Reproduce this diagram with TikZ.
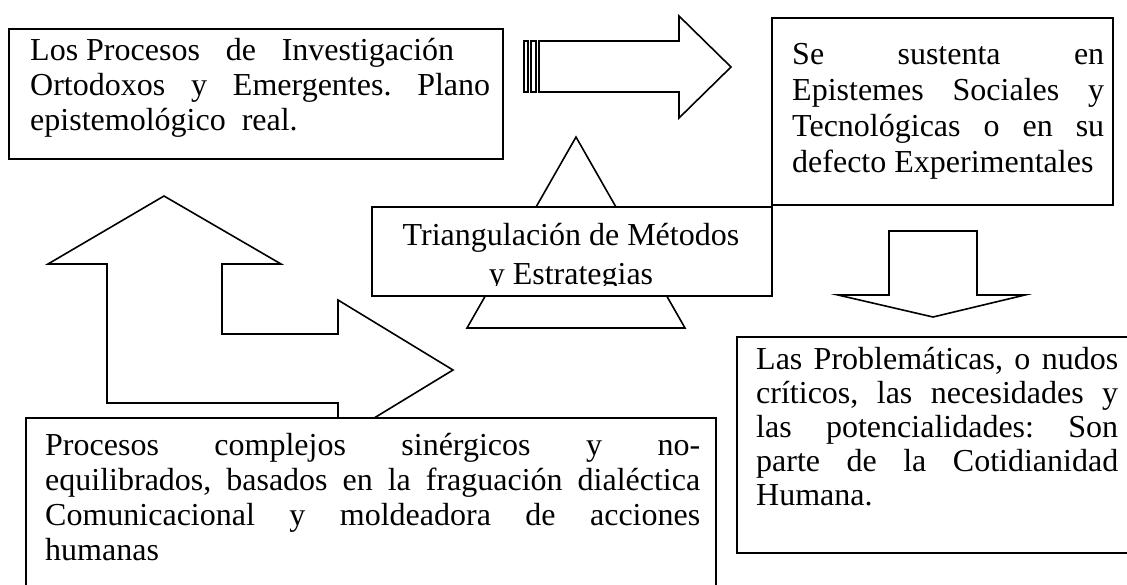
\documentclass[tikz,border=0pt]{standalone}
\usepackage{fontspec}
\setmainfont{Liberation Serif}
\frenchspacing
\newcommand\jline[1]{\hbox to\hsize{#1}}
\newcommand\nline[1]{\hbox{#1}}
\newcommand\clines[1]{\hbox to\hsize{\hfil #1\hfil}}
\newcommand\lines[3]{\vtop{\hsize=#1\baselineskip=#2\lineskiplimit=-\maxdimen #3}}
\tikzset{
  shp/.style={draw=black, line width=1.6pt, fill=white, line join=miter},
  stripe/.style={draw=black, line width=1.1pt, fill=white},
  box/.style={draw=black, line width=1.6pt, fill=white, inner sep=0pt, anchor=north west},
  txt/.style={inner sep=0pt, anchor=base west, font=\fontsize{32}{37}\selectfont},
}
\begin{document}
\begin{tikzpicture}[x=1pt,y=-1pt]
\useasboundingbox (0,0) rectangle (1127,584);
\clip (0,0) rectangle (1127,584);

% striped right arrow
\draw[stripe] (524,41) rectangle (528,92);
\draw[stripe] (531,41) rectangle (536,92);
\draw[shp] (539,41) -- (679,41) -- (679,16) -- (731,67) -- (679,118) -- (679,92) -- (539,92) -- cycle;

% top-left box
\node[box, minimum width=494pt, minimum height=130pt] (tlbox) at (8,28) {};
\node[txt] (tltext) at (30,60) {\lines{460pt}{35pt}{%
  \hbox to 424pt{Los Procesos\hfil\ de\hfil\ Investigación}%
  \jline{Ortodoxos y Emergentes. Plano}%
  \nline{epistemológico\ \ real.}}};

% top-right box
\node[box, minimum width=341pt, minimum height=187pt] (trbox) at (771,17) {};
\node[txt] (trtext) at (792,64) {\lines{312pt}{36pt}{%
  \jline{Se sustenta en}%
  \jline{Epistemes Sociales y}%
  \jline{Tecnológicas o en su}%
  \nline{defecto Experimentales}}};

% triangle behind the central box
\draw[shp] (576,137) -- (685,328) -- (467,328) -- cycle;

% central box
\node[box, minimum width=400pt, minimum height=89pt] (tgbox) at (371,206) {};
\begin{scope}
\clip (371,206) rectangle (771,285);
\node[txt, anchor=base] (tgtext) at (571,245) {\lines{400pt}{39pt}{%
  \clines{Triangulación de Métodos}%
  \clines{y Estrategias}}};
\end{scope}

% bent arrow (up and right)
\draw[shp] (164,196) -- (281,264) -- (222,264) -- (222,334) -- (338,334) -- (338,300)
  -- (453,370) -- (338,440) -- (338,403) -- (107,403) -- (107,264) -- (48,264) -- cycle;

% bottom box
\node[box, minimum width=690pt, minimum height=200pt] (bbox) at (25,417) {};
\node[txt] (btext) at (45,455) {\lines{655pt}{35pt}{%
  \jline{Procesos complejos sinérgicos y no-}%
  \jline{equilibrados, basados en la fraguación dialéctica}%
  \jline{Comunicacional y moldeadora de acciones}%
  \nline{humanas}}};

% down arrow
\draw[shp] (889,231) -- (977,231) -- (977,295) -- (1025,295) -- (933,317) -- (838,295) -- (889,295) -- cycle;

% bottom-right box
\node[box, minimum width=420pt, minimum height=216pt] (brbox) at (736,336) {};
\node[txt] (brtext) at (756,369) {\lines{362pt}{34pt}{%
  \jline{Las Problemáticas, o nudos}%
  \jline{críticos, las necesidades y}%
  \jline{las potencialidades: Son}%
  \jline{parte de la Cotidianidad}%
  \nline{Humana.}}};
\end{tikzpicture}
\end{document}
